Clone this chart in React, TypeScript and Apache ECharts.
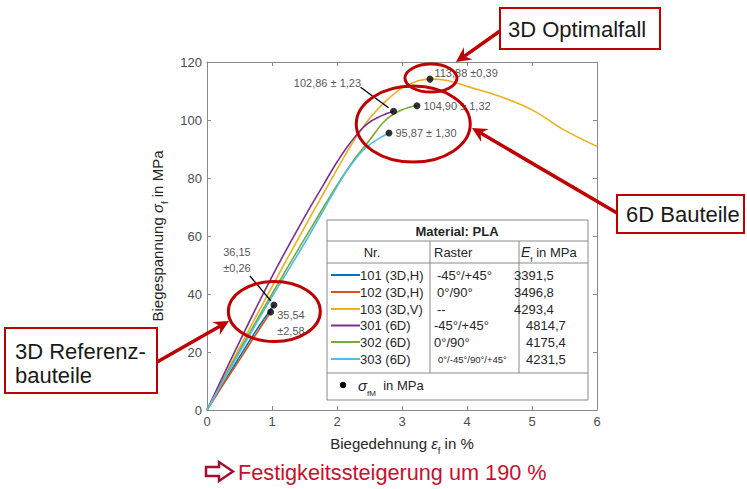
import React, { useEffect, useRef } from "react";
import * as echarts from "echarts";

const FONT = "'Liberation Sans', Arial, sans-serif";

// Curves (Biegedehnung in %, Biegespannung in MPa)
const x101 = [0, 0.25, 0.5, 0.75, 1.03];
const y101 = [0, 9.2, 18.3, 27.2, 36.2];
const x102 = [0, 0.25, 0.5, 0.75, 0.98];
const y102 = [0, 8.8, 17.3, 26.0, 33.8];
const x103 = [0, 0.5, 1, 1.5, 1.8, 2.0, 2.25, 2.5, 2.75, 3.0, 3.25, 3.43, 3.7, 4.0, 4.5, 5.0, 5.5, 6.0];
const y103 = [0, 21.5, 42.5, 63, 75, 83, 92.5, 100.5, 106.5, 111, 113.5, 114.1, 113.6, 111.6, 108.2, 103.5, 96.5, 90.9];
const x301 = [0, 0.5, 1.0, 1.5, 1.8, 2.0, 2.2, 2.46, 2.7, 2.87];
const y301 = [0, 23.5, 46, 66.5, 78, 85.5, 92, 98.6, 101.6, 103];
const x302 = [0, 0.5, 1.0, 1.5, 2.0, 2.25, 2.5, 2.75, 3.0, 3.23];
const y302 = [0, 20.5, 40, 59, 77.5, 86, 93, 100, 103.5, 104.9];
const x303 = [0, 0.5, 1.0, 1.5, 2.0, 2.2, 2.4, 2.6, 2.8];
const y303 = [0, 19.8, 39, 57.5, 77, 84, 89.5, 93, 95.5];

const seriesNames = ["101 (3D,H)", "102 (3D,H)", "103 (3D,V)", "301 (6D)", "302 (6D)", "303 (6D)"];
const seriesColors = ["#0072BD", "#D95319", "#EDB120", "#7E2F8E", "#77AC30", "#4DBEEE"];
const rasterLabels = ["-45°/+45°", "0°/90°", "--", "-45°/+45°", "0°/90°", "0°/-45°/90°/+45°"];
const efValues = ["3391,5", "3496,8", "4293,4", "4814,7", "4175,4", "4231,5"];
const curvesX = [x101, x102, x103, x301, x302, x303];
const curvesY = [y101, y102, y103, y301, y302, y303];

// sigma_fM points
const dotX = [1.03, 0.98, 2.87, 3.23, 2.8, 3.43];
const dotY = [36.2, 33.8, 103, 104.9, 95.5, 114.1];
const dotLabels = ["36,15\n±0,26", "35,54\n±2,58", "102,86 ± 1,23", "104,90 ± 1,32", "95,87 ± 1,30", "113,88 ±0,39"];

const xTicks = [0, 1, 2, 3, 4, 5, 6];
const yTicks = [0, 20, 40, 60, 80, 100, 120];

const RED = "#C00000";
const AX = "#8a8a8a";

function arrow(x1: number, y1: number, x2: number, y2: number, color: string) {
  const dx = x2 - x1, dy = y2 - y1;
  const L = Math.hypot(dx, dy);
  const ux = dx / L, uy = dy / L;
  const nx = -uy, ny = ux;
  const hl = 15, hw = 7.5, ind = 5;
  const bx = x2 - ux * hl, by = y2 - uy * hl;
  return [
    { type: "line", shape: { x1, y1, x2: x2 - ux * (hl - ind), y2: y2 - uy * (hl - ind) }, style: { stroke: color, lineWidth: 3.5 }, z: 100 },
    {
      type: "polygon",
      shape: { points: [[x2, y2], [bx + nx * hw, by + ny * hw], [x2 - ux * (hl - ind), y2 - uy * (hl - ind)], [bx - nx * hw, by - ny * hw]] },
      style: { fill: color },
      z: 100,
    },
  ];
}

export default function App() {
  const ref = useRef<HTMLDivElement>(null);
  useEffect(() => {
    if (!ref.current) return;
    const chart = echarts.init(ref.current, null, { renderer: "svg" });
    const lineSeries = curvesX.map((xs, i) => ({
      type: "line",
      name: seriesNames[i],
      data: xs.map((x, j) => [x, curvesY[i][j]]),
      smooth: 0.4,
      showSymbol: false,
      lineStyle: { color: seriesColors[i], width: 1.6 },
      z: 3,
    }));
    const labelCfg: any[] = [
      { position: "inside", offset: [-37, -45], align: "center" },
      { position: "right", offset: [-2, 11], align: "left" },
      { position: "left", offset: [-24, -28], align: "right" },
      { position: "right", offset: [-2, 0], align: "left" },
      { position: "right", offset: [-2, 0], align: "left" },
      { position: "right", offset: [-4, -6], align: "left" },
    ];
    const richName = {
      t: { fontSize: 15, fontFamily: FONT, color: "#262626", lineHeight: 18 },
      i: { fontSize: 15, fontFamily: FONT, fontStyle: "italic", color: "#262626", lineHeight: 18 },
      s: { fontSize: 9.5, fontFamily: FONT, color: "#262626", verticalAlign: "bottom", lineHeight: 9, padding: [0, 0, -3, 0] },
    };
    const option: any = {
      animation: false,
      backgroundColor: "#ffffff",
      grid: { left: 207, top: 62, width: 390, height: 348 },
      xAxis: [
        {
          type: "value", min: 0, max: 6, interval: 1, position: "bottom",
          axisLine: { show: true, onZero: false, lineStyle: { color: AX } },
          axisTick: { show: true, inside: true, length: 4, lineStyle: { color: AX } },
          axisLabel: { color: "#4d4d4d", fontSize: 13, margin: 5, fontFamily: FONT, formatter: (v: number) => (xTicks.includes(v) ? String(v) : "") },
          splitLine: { show: false },
          name: "{t|Biegedehnung }{i|ε}{s|f}{t| in %}",
          nameLocation: "middle",
          nameGap: 24,
          nameTextStyle: { color: "#262626", rich: richName },
        },
        {
          type: "value", min: 0, max: 6, interval: 1, position: "top",
          axisLine: { show: true, onZero: false, lineStyle: { color: AX } },
          axisTick: { show: true, inside: true, length: 4, lineStyle: { color: AX } },
          axisLabel: { show: false },
          splitLine: { show: false },
        },
      ],
      yAxis: [
        {
          type: "value", min: 0, max: 120, interval: 20, position: "left",
          axisLine: { show: true, onZero: false, lineStyle: { color: AX } },
          axisTick: { show: true, inside: true, length: 4, lineStyle: { color: AX } },
          axisLabel: { color: "#4d4d4d", fontSize: 13, margin: 5, fontFamily: FONT, formatter: (v: number) => (yTicks.includes(v) ? String(v) : "") },
          splitLine: { show: false },
          name: "{t|Biegespannung }{i|σ}{s|f}{t| in MPa}",
          nameLocation: "middle",
          nameRotate: 90,
          nameGap: 38,
          nameTextStyle: { color: "#262626", rich: richName },
        },
        {
          type: "value", min: 0, max: 120, interval: 20, position: "right",
          axisLine: { show: true, onZero: false, lineStyle: { color: AX } },
          axisTick: { show: true, inside: true, length: 4, lineStyle: { color: AX } },
          axisLabel: { show: false },
          splitLine: { show: false },
        },
      ],
      series: [
        ...lineSeries,
        {
          type: "scatter",
          name: "sigma_fM",
          symbolSize: 7,
          itemStyle: { color: "#000000" },
          z: 5,
          data: dotX.map((x, i) => ({
            value: [x, dotY[i]],
            label: {
              show: true,
              formatter: dotLabels[i],
              fontSize: 11,
              lineHeight: 16,
              fontFamily: FONT,
              color: "#262626",
              ...labelCfg[i],
            },
          })),
        },
      ],
    };
    chart.setOption(option);

    const P = (x: number, y: number) => chart.convertToPixel({ xAxisIndex: 0, yAxisIndex: 0 }, [x, y]) as number[];
    const d = dotX.map((x, i) => P(x, dotY[i]));
    const g: any[] = [];

    // leader lines
    g.push({ type: "line", shape: { x1: d[0][0] - 24, y1: d[0][1] - 29, x2: d[0][0] - 3, y2: d[0][1] - 4 }, style: { stroke: "#000", lineWidth: 1.3 }, z: 50 });
    g.push({ type: "line", shape: { x1: d[2][0] - 33, y1: d[2][1] - 24, x2: d[2][0] - 5, y2: d[2][1] - 3.5 }, style: { stroke: "#000", lineWidth: 1.3 }, z: 50 });

    // legend table
    const TL = 327, TT = 220, TW = 261, TH = 180;
    g.push({ type: "rect", shape: { x: TL, y: TT, width: TW, height: TH }, style: { fill: "#fff", stroke: AX, lineWidth: 1 }, z: 20 });
    [241, 263, 373].forEach((yy) => g.push({ type: "line", shape: { x1: TL, y1: yy, x2: TL + TW, y2: yy }, style: { stroke: AX, lineWidth: 1 }, z: 21 }));
    [430, 519].forEach((xx) => g.push({ type: "line", shape: { x1: xx, y1: 241, x2: xx, y2: 373 }, style: { stroke: AX, lineWidth: 1 }, z: 21 }));
    const txt = (x: number, y: number, text: string, extra: any = {}, z = 22) => ({
      type: "text", x, y, z,
      style: { text, fontSize: 13, fontFamily: FONT, fill: "#262626", verticalAlign: "middle", ...extra },
    });
    g.push(txt(457, 231, "Material: PLA", { fontWeight: "bold", align: "center" }));
    g.push(txt(372, 252, "Nr.", { align: "center" }));
    g.push(txt(434, 252, "Raster"));
    g.push({
      type: "text", x: 521, y: 252, z: 22,
      style: {
        text: "{i|E}{s|f}{t| in MPa}", verticalAlign: "middle", fontFamily: FONT,
        rich: {
          i: { fontSize: 14, fontStyle: "italic", fontFamily: FONT, fill: "#262626", lineHeight: 16 },
          s: { fontSize: 8, fontFamily: FONT, fill: "#262626", verticalAlign: "bottom", lineHeight: 8, padding: [0, 0, -3, 0] },
          t: { fontSize: 13, fontFamily: FONT, fill: "#262626", lineHeight: 16 },
        },
      },
    });
    const rowY = [275, 292, 309, 325.5, 342, 359];
    seriesNames.forEach((nm, i) => {
      const yy = rowY[i];
      g.push({ type: "line", shape: { x1: 331, y1: yy, x2: 360, y2: yy }, style: { stroke: seriesColors[i], lineWidth: 2 }, z: 22 });
      g.push(txt(360, yy, nm));
      const rx = i < 3 ? 437 : i < 5 ? 434 : 438;
      g.push(txt(rx, yy, rasterLabels[i], i === 5 ? { fontSize: 9.5 } : {}));
      g.push(txt(i < 3 ? 514 : 526, yy, efValues[i]));
    });
    g.push({ type: "circle", shape: { cx: 343, cy: 385, r: 3.2 }, style: { fill: "#000" }, z: 22 });
    g.push({
      type: "text", x: 358, y: 385, z: 22,
      style: {
        text: "{i|σ}{s|fM}{t|  in MPa}", verticalAlign: "middle", fontFamily: FONT,
        rich: {
          i: { fontSize: 15, fontStyle: "italic", fontFamily: FONT, fill: "#262626", lineHeight: 16 },
          s: { fontSize: 8, fontFamily: FONT, fill: "#262626", verticalAlign: "bottom", lineHeight: 8, padding: [0, 0, -4, 0] },
          t: { fontSize: 13, fontFamily: FONT, fill: "#262626", lineHeight: 16 },
        },
      },
    });

    // red ellipses
    const ell = (cx: number, cy: number, rx: number, ry: number) => ({
      type: "ellipse", shape: { cx, cy, rx, ry }, style: { fill: "none", stroke: RED, lineWidth: 3 }, z: 60,
    });
    g.push(ell(d[5][0] + 1, d[5][1] - 1, 26, 14));
    g.push(ell((d[2][0] + d[3][0]) / 2 + 8, d[4][1] - 9, 57, 38));
    g.push(ell((d[0][0] + d[1][0]) / 2 + 2, (d[0][1] + d[1][1]) / 2 + 3, 46, 30));

    // boxes with text
    const box = (x: number, y: number, w: number, h: number) => ({
      type: "rect", shape: { x, y, width: w, height: h }, style: { fill: "#fff", stroke: RED, lineWidth: 2 }, z: 90,
    });
    const BIG = { fontSize: 22, fill: "#1a1a1a" };
    g.push(box(500, 8, 160, 41));
    g.push(txt(508, 29, "3D Optimalfall", BIG, 95));
    g.push(box(617, 195, 127, 38));
    g.push(txt(626, 214.5, "6D Bauteile", BIG, 95));
    g.push(box(5, 328, 152, 65));
    g.push(txt(15, 351.5, "3D Referenz-", BIG, 95));
    g.push(txt(15, 375, "bauteile", BIG, 95));

    // arrows
    g.push(...arrow(500, 31, d[5][0] + 26, d[5][1] - 17, RED));
    g.push(...arrow(617, 213, 472, 128, RED));
    g.push(...arrow(157, 362, 229, 321, RED));

    // bottom statement
    g.push({
      type: "polygon",
      shape: { points: [[206, 467], [219, 467], [219, 462], [233, 471.5], [219, 481], [219, 476], [206, 476]] },
      style: { fill: "#fff", stroke: "#A50F2D", lineWidth: 2.5 },
      z: 30,
    });
    g.push(txt(238, 472, "Festigkeitssteigerung um 190 %", { fontSize: 21.7, fill: "#C8102E" }, 95));

    chart.setOption({ graphic: g });

    return () => chart.dispose();
  }, []);
  return <div ref={ref} style={{ position: "fixed", left: 0, top: 0, width: 747, height: 489, background: "#fff" }} />;
}
